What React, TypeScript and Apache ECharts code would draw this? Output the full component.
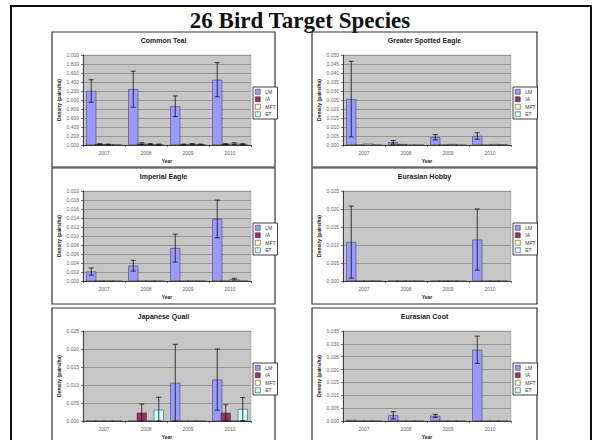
import React, { useEffect, useRef } from 'react';
import * as echarts from 'echarts';

const years = ['2007', '2008', '2009', '2010'];
const seriesNames = ['LM', 'IA', 'MFT', 'ET'];
const seriesColors = ['#9999FF', '#993366', '#FFFFCC', '#CCFFFF'];

const speciesTitles = ['Common Teal', 'Greater Spotted Eagle', 'Imperial Eagle', 'Eurasian Hobby', 'Japanese Quail', 'Eurasian Coot'];
const axisMax = [2.0, 0.05, 0.02, 0.025, 0.025, 0.035];
const axisStep = [0.2, 0.005, 0.002, 0.005, 0.005, 0.005];

// values per series (LM, IA, MFT, ET) per year
const tealValues = [[1.2, 1.24, 0.86, 1.45], [0.02, 0.03, 0.01, 0.02], [0.01, 0.02, 0.02, 0.03], [0.01, 0.01, 0.01, 0.02]];
const tealErrors = [[0.25, 0.4, 0.23, 0.38], [0.01, 0.02, 0.01, 0.01], [0.01, 0.01, 0.01, 0.02], [0, 0.01, 0.01, 0.01]];

const spottedValues = [[0.0255, 0.0015, 0.0043, 0.005], [0, 0.0005, 0, 0], [0.0008, 0, 0.0005, 0.0005], [0, 0, 0, 0.0003]];
const spottedErrors = [[0.021, 0.001, 0.0015, 0.0018], [0, 0, 0, 0], [0, 0, 0, 0], [0, 0, 0, 0]];

const imperialValues = [[0.0021, 0.0034, 0.0073, 0.0138], [0, 0, 0, 0], [0, 0, 0, 0.0004], [0, 0, 0, 0]];
const imperialErrors = [[0.0008, 0.0012, 0.0031, 0.0042], [0, 0, 0, 0], [0, 0, 0, 0.0002], [0, 0, 0, 0]];

const hobbyValues = [[0.0108, 0, 0, 0.0115], [0, 0, 0, 0], [0, 0, 0, 0], [0, 0, 0, 0]];
const hobbyErrors = [[0.01, 0, 0, 0.0085], [0, 0, 0, 0], [0, 0, 0, 0], [0, 0, 0, 0]];

const quailValues = [[0, 0, 0.0106, 0.0115], [0, 0.0023, 0, 0.0023], [0, 0, 0, 0], [0, 0.0031, 0, 0.0033]];
const quailErrors = [[0, 0, 0.0107, 0.0085], [0, 0.0024, 0, 0.0022], [0, 0, 0, 0], [0, 0.0035, 0, 0.0032]];

const cootValues = [[0.0004, 0.0022, 0.002, 0.0277], [0, 0, 0, 0], [0, 0, 0, 0], [0, 0, 0, 0]];
const cootErrors = [[0, 0.0014, 0.0006, 0.0053], [0, 0, 0, 0], [0, 0, 0, 0], [0, 0, 0, 0]];

const allValues = [tealValues, spottedValues, imperialValues, hobbyValues, quailValues, cootValues];
const allErrors = [tealErrors, spottedErrors, imperialErrors, hobbyErrors, quailErrors, cootErrors];

const panels = [
  { x: 52, y: 32, w: 223, h: 135 },
  { x: 312, y: 32, w: 225, h: 135 },
  { x: 52, y: 168, w: 223, h: 136 },
  { x: 312, y: 168, w: 225, h: 136 },
  { x: 52, y: 308, w: 223, h: 140 },
  { x: 312, y: 308, w: 225, h: 140 },
];

const BAR_W = 10;
const GAP = 0.15;
const STEP = BAR_W * (1 - GAP);

export default function App() {
  const ref = useRef<HTMLDivElement>(null);
  useEffect(() => {
    if (!ref.current) return;
    const chart = echarts.init(ref.current, undefined, { renderer: 'svg' });
    const grids: any[] = [];
    const xAxes: any[] = [];
    const yAxes: any[] = [];
    const legends: any[] = [];
    const series: any[] = [];
    const graphics: any[] = [];

    graphics.push({
      type: 'rect', shape: { x: 11, y: 6, width: 580, height: 445 },
      style: { fill: 'none', stroke: '#111', lineWidth: 2 },
    });
    graphics.push({
      type: 'text', x: 300, y: 20,
      style: {
        text: '26 Bird Target Species', fill: '#111', align: 'center', verticalAlign: 'middle',
        font: 'bold 23px "Liberation Serif", serif',
      },
    });

    panels.forEach((p, i) => {
      graphics.push({
        type: 'rect', shape: { x: p.x, y: p.y, width: p.w, height: p.h },
        style: { fill: 'none', stroke: '#333', lineWidth: 1.2 },
      });
      graphics.push({
        type: 'text', x: p.x + p.w / 2, y: p.y + 8,
        style: {
          text: speciesTitles[i], fill: '#222', align: 'center', verticalAlign: 'middle',
          font: 'bold 7px "Liberation Sans", Arial, sans-serif',
        },
      });
      const left = p.x + 31;
      const top = p.y + 23;
      grids.push({
        left, top, width: 168, height: 90, show: true,
        backgroundColor: '#c6c6c6', borderColor: '#9a9a9a', borderWidth: 0.5,
      });
      xAxes.push({
        type: 'category', gridIndex: i, data: years,
        axisLine: { lineStyle: { color: '#222', width: 0.8 } },
        axisTick: { show: true, length: 2, lineStyle: { color: '#222', width: 0.6 } },
        axisLabel: { fontSize: 5, color: '#666', margin: 5, fontFamily: 'Liberation Sans' },
        name: 'Year', nameLocation: 'middle', nameGap: 13,
        nameTextStyle: { fontSize: 5, fontWeight: 'bold', color: '#222', fontFamily: 'Liberation Sans' },
      });
      yAxes.push({
        type: 'value', gridIndex: i, min: 0, max: axisMax[i], interval: axisStep[i],
        axisLine: { show: true, lineStyle: { color: '#222', width: 0.8 } },
        axisTick: { show: true, length: 2, lineStyle: { color: '#222', width: 0.6 } },
        splitLine: { show: true, lineStyle: { color: '#8a8a8a', width: 0.8 } },
        axisLabel: {
          fontSize: 5, color: '#666', margin: 4, fontFamily: 'Liberation Sans',
          formatter: (v: number) => v.toFixed(3),
        },
        name: 'Density (pairs/ha)', nameLocation: 'middle', nameGap: 22, nameRotate: 90,
        nameTextStyle: { fontSize: 5, fontWeight: 'bold', color: '#222', fontFamily: 'Liberation Sans' },
      });
      legends.push({
        orient: 'vertical', left: p.x + 201, top: p.y + 55,
        itemWidth: 5, itemHeight: 5, itemGap: 2, padding: [2, 2, 2, 2],
        borderColor: '#111', borderWidth: 0.8, backgroundColor: '#fff',
        selectedMode: false,
        textStyle: { fontSize: 5, color: '#333', fontFamily: 'Liberation Sans' },
        data: seriesNames.map((n, s) => ({
          name: n, icon: 'rect',
          itemStyle: { color: seriesColors[s], borderColor: '#222', borderWidth: 0.5 },
        })),
      });
      const vals = allValues[i];
      const errs = allErrors[i];
      seriesNames.forEach((n, s) => {
        series.push({
          type: 'bar', name: n, xAxisIndex: i, yAxisIndex: i,
          data: vals[s], barWidth: BAR_W, barGap: `-${GAP * 100}%`,
          itemStyle: { color: seriesColors[s], borderColor: '#333', borderWidth: 0.5 },
          z: 2,
        });
      });
      const errData: number[][] = [];
      for (let s = 0; s < 4; s++) {
        for (let c = 0; c < 4; c++) {
          if (errs[s][c] > 0) errData.push([c, s, vals[s][c], errs[s][c]]);
        }
      }
      series.push({
        type: 'custom', xAxisIndex: i, yAxisIndex: i, coordinateSystem: 'cartesian2d',
        data: errData, z: 5, silent: true,
        encode: { x: 0, y: 2 },
        renderItem: (_params: any, api: any) => {
          const c = api.value(0);
          const s = api.value(1);
          const v = api.value(2);
          const e = api.value(3);
          const off = (s - 1.5) * STEP;
          const t = api.coord([c, v + e]);
          const b = api.coord([c, Math.max(0, v - e)]);
          const x = t[0] + off;
          const st = { stroke: '#111', lineWidth: 0.8 };
          return {
            type: 'group',
            children: [
              { type: 'line', shape: { x1: x, y1: t[1], x2: x, y2: b[1] }, style: st },
              { type: 'line', shape: { x1: x - 2.5, y1: t[1], x2: x + 2.5, y2: t[1] }, style: st },
              { type: 'line', shape: { x1: x - 2.5, y1: b[1], x2: x + 2.5, y2: b[1] }, style: st },
            ],
          };
        },
      });
    });

    chart.setOption({
      animation: false,
      backgroundColor: '#fff',
      grid: grids,
      xAxis: xAxes,
      yAxis: yAxes,
      legend: legends,
      series,
      graphic: graphics,
    });
    return () => chart.dispose();
  }, []);
  return (
    <div
      ref={ref}
      style={{ position: 'absolute', left: 0, top: 0, width: 593, height: 440, background: '#fff' }}
    />
  );
}
